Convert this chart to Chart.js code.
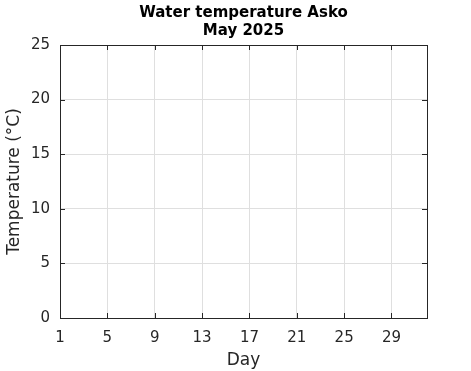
<!DOCTYPE html>
<html>
<head>
<meta charset="utf-8">
<script src="https://cdn.jsdelivr.net/npm/chart.js@4.4.1/dist/chart.umd.min.js"></script>
<style>
  html, body { margin: 0; padding: 0; background: #fff; }
  #wrap { width: 471px; height: 371px; }
</style>
</head>
<body>
<div id="wrap"><canvas id="tempChart"></canvas></div>
<script>
// No measurements yet for this month - the series is empty
var days = [];
var temperature = [];

var titleLines = ['Water temperature Asko', 'May 2025'];
var xTicks = [1, 5, 9, 13, 17, 21, 25, 29];
var yTicks = [0, 5, 10, 15, 20, 25];
var xMin = 1, xMax = 32;
var yMin = 0, yMax = 25;

var axisColor = '#262626';
var gridColor = '#dfdfdf';
var fontFamily = '"DejaVu Sans", sans-serif';

// MATLAB style box with inward ticks on all four sides
var boxPlugin = {
    id: 'matlabBox',
    afterDraw: function(chart) {
        var ctx = chart.ctx;
        var a = chart.chartArea;
        var xs = chart.scales.x, ys = chart.scales.y;
        var len = 5;
        ctx.save();
        ctx.strokeStyle = axisColor;
        ctx.lineWidth = 1;
        ctx.beginPath();
        xTicks.forEach(function(v) {
            var px = Math.round(xs.getPixelForValue(v)) + 0.5;
            ctx.moveTo(px, a.bottom); ctx.lineTo(px, a.bottom - len);
            ctx.moveTo(px, a.top); ctx.lineTo(px, a.top + len);
        });
        yTicks.forEach(function(v) {
            var py = Math.round(ys.getPixelForValue(v)) + 0.5;
            ctx.moveTo(a.left, py); ctx.lineTo(a.left + len, py);
            ctx.moveTo(a.right, py); ctx.lineTo(a.right - len, py);
        });
        ctx.stroke();
        ctx.strokeRect(Math.round(a.left) + 0.5, Math.round(a.top) + 0.5,
            Math.round(a.right - a.left), Math.round(a.bottom - a.top));
        ctx.restore();
    }
};

var ctx = document.getElementById('tempChart').getContext('2d');
var tempChart = new Chart(ctx, {
    type: 'line',
    data: {
        datasets: [{
            label: 'Temperature',
            data: days.map(function(d, i) { return { x: d, y: temperature[i] }; }),
            borderColor: '#0072bd',
            borderWidth: 1.5,
            pointRadius: 0,
            fill: false
        }]
    },
    options: {
        responsive: true,
        maintainAspectRatio: false,
        animation: false,
        layout: {
            padding: { left: 0, right: 44, top: 0, bottom: 0 }
        },
        plugins: {
            legend: { display: false },
            tooltip: { enabled: false },
            title: {
                display: true,
                fullSize: false,
                text: titleLines,
                color: '#000',
                font: { family: fontFamily, size: 15, weight: 'bold', lineHeight: 1.2 },
                padding: { top: 4, bottom: 5 }
            }
        },
        scales: {
            x: {
                type: 'linear',
                min: xMin,
                max: xMax,
                afterBuildTicks: function(scale) {
                    scale.ticks = xTicks.map(function(v) { return { value: v }; });
                },
                afterFit: function(scale) { scale.height = 53; },
                grid: { color: gridColor, drawTicks: false },
                border: { display: false },
                ticks: {
                    color: axisColor,
                    padding: 11,
                    maxRotation: 0,
                    font: { family: fontFamily, size: 15 }
                },
                title: {
                    display: true,
                    text: 'Day',
                    color: axisColor,
                    padding: { top: 2, bottom: 0 },
                    font: { family: fontFamily, size: 17 }
                }
            },
            y: {
                min: yMin,
                max: yMax,
                afterBuildTicks: function(scale) {
                    scale.ticks = yTicks.map(function(v) { return { value: v }; });
                },
                afterFit: function(scale) { scale.width = 60; },
                grid: { color: gridColor, drawTicks: false },
                border: { display: false },
                ticks: {
                    color: axisColor,
                    padding: 10,
                    font: { family: fontFamily, size: 15 }
                },
                title: {
                    display: true,
                    text: 'Temperature (°C)',
                    color: axisColor,
                    padding: { top: 4, bottom: 0 },
                    font: { family: fontFamily, size: 17 }
                }
            }
        }
    },
    plugins: [boxPlugin]
});
</script>
</body>
</html>
